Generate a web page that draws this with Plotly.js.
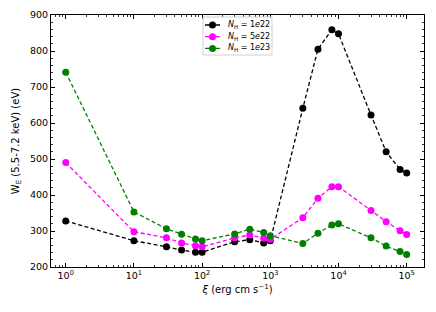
<!DOCTYPE html>
<html>
<head>
<meta charset="utf-8">
<script src="https://cdn.plot.ly/plotly-3.0.1.min.js"></script>
<style>html,body{margin:0;padding:0;background:#fff;}#chart{width:436px;height:312px;}</style>
</head>
<body>
<div id="chart"></div>
<script>
const xi = [1, 10, 30, 50, 80, 100, 300, 500, 800, 1000, 3000, 5000, 8000, 10000, 30000, 50000, 80000, 100000];
const we_1e22 = [328, 273, 256, 247, 241, 241, 270, 276, 267, 273, 641, 805, 859, 848, 622, 520, 471, 461];
const we_5e22 = [490, 298, 281, 267, 259, 256, 281, 289, 280, 277, 337, 391, 423, 423, 357, 326, 301, 290];
const we_1e23 = [741, 353, 306, 291, 278, 273, 292, 305, 296, 287, 265, 294, 317, 320, 281, 258, 243, 235];
const seriesNames = ['<i>N</i><sub>H</sub> = 1<i>e</i>22', '<i>N</i><sub>H</sub> = 5<i>e</i>22', '<i>N</i><sub>H</sub> = 1<i>e</i>23'];
const seriesColors = ['#000000', '#ff00ff', '#008000'];
const xTickVals = [1, 10, 100, 1000, 10000, 100000];
const xTickText = ['10<sup>0</sup>', '10<sup>1</sup>', '10<sup>2</sup>', '10<sup>3</sup>', '10<sup>4</sup>', '10<sup>5</sup>'];

const ys = [we_1e22, we_5e22, we_1e23];
const traces = ys.map((y, i) => ({
  x: xi, y: y, type: 'scatter', mode: 'lines+markers', name: seriesNames[i],
  line: {color: seriesColors[i], width: 1.3, dash: '4px,2.5px'},
  marker: {color: seriesColors[i], size: 7}
}));

// custom compact legend (matplotlib style), in paper coordinates
const plotW = 373, plotH = 252;
const px = v => v / plotW, py = v => 1 - v / plotH; // pixel offsets inside plot area
const shapes = [{
  type: 'rect', xref: 'paper', yref: 'paper',
  x0: px(152), x1: px(221), y0: py(40), y1: py(2),
  line: {color: '#d0d0d0', width: 1}, fillcolor: 'rgba(255,255,255,0.8)', layer: 'above'
}];
const annotations = [];
seriesNames.forEach((name, i) => {
  const yy = py(10 + i * 11.7);
  shapes.push({type: 'line', xref: 'paper', yref: 'paper', x0: px(154), x1: px(169), y0: yy, y1: yy,
               line: {color: seriesColors[i], width: 1.3, dash: '4px,1.5px'}, layer: 'above'});
  shapes.push({type: 'circle', xref: 'paper', yref: 'paper', xsizemode: 'pixel', ysizemode: 'pixel',
               xanchor: px(161.5), yanchor: yy, x0: -3.5, x1: 3.5, y0: -3.5, y1: 3.5,
               fillcolor: seriesColors[i], line: {color: seriesColors[i], width: 0}, layer: 'above'});
  annotations.push({xref: 'paper', yref: 'paper', x: px(175), y: yy, xanchor: 'left', yanchor: 'middle',
                    text: name, showarrow: false, font: {family: 'DejaVu Sans, sans-serif', size: 8, color: '#000'}});
});

const font = {family: 'DejaVu Sans, sans-serif', size: 9.5, color: '#000'};
const layout = {
  width: 436, height: 312,
  margin: {l: 51, r: 12, t: 15, b: 45},
  paper_bgcolor: '#fff', plot_bgcolor: '#fff',
  font: font,
  showlegend: false,
  shapes: shapes,
  annotations: annotations,
  xaxis: {
    type: 'log', range: [-0.216, 5.254], showgrid: false, zeroline: false,
    showline: true, linecolor: '#000', linewidth: 1, mirror: 'allticks',
    ticks: 'inside', ticklen: 4, tickwidth: 1, tickcolor: '#000',
    tickvals: xTickVals, ticktext: xTickText,
    minor: {ticks: 'inside', ticklen: 2, tickwidth: 0.8, tickcolor: '#000', dtick: 'D1', showgrid: false},
    title: {text: '<i>ξ</i> (erg cm s<sup>−1</sup>)', font: {family: 'DejaVu Sans, sans-serif', size: 10}, standoff: 5},
    automargin: false
  },
  yaxis: {
    range: [200, 900], dtick: 100, showgrid: false, zeroline: false,
    showline: true, linecolor: '#000', linewidth: 1, mirror: 'allticks',
    ticks: 'inside', ticklen: 4, tickwidth: 1, tickcolor: '#000',
    minor: {ticks: 'inside', ticklen: 2, tickwidth: 0.8, tickcolor: '#000', dtick: 20, showgrid: false},
    title: {text: 'W<sub>E</sub> (5.5-7.2 keV) (eV)', font: {family: 'DejaVu Sans, sans-serif', size: 10}, standoff: 8},
    automargin: false
  }
};
Plotly.newPlot('chart', traces, layout, {displayModeBar: false, staticPlot: true});
</script>
</body>
</html>
